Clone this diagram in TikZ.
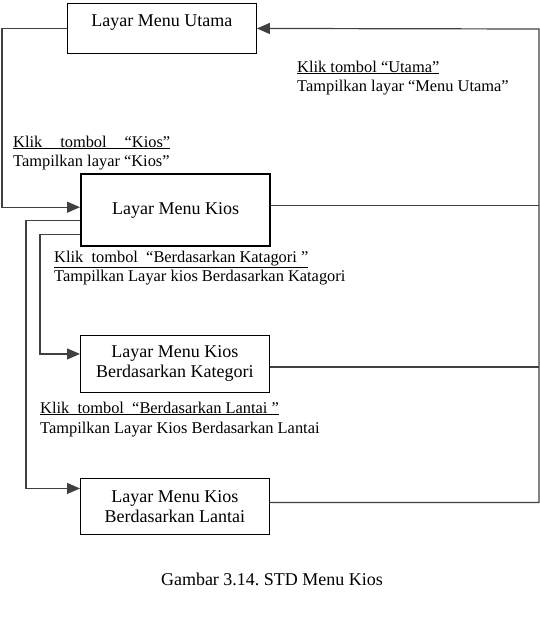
\documentclass[tikz,border=0pt]{standalone}
\usepackage{fontspec}
\setmainfont{Liberation Serif}
\usetikzlibrary{arrows.meta}
\frenchspacing
\begin{document}
\begin{tikzpicture}[x=1pt,y=-1pt,
  box/.style={draw=black, line width=0.9pt, minimum width=189pt, inner sep=0pt, align=center, anchor=north west, font=\fontsize{18}{20}\selectfont},
  lbl/.style={inner sep=0pt, anchor=base west, font=\fontsize{16.4}{19}\selectfont},
  conn/.style={draw=black!75, line width=1.2pt},
  arr/.style={conn, -{Triangle[length=13pt,width=11pt]}}]
\useasboundingbox (0,0) rectangle (540,640);

\node[box, minimum height=50pt, text height=12pt, text depth=16pt] (utama) at (67,3) {Layar Menu Utama};
\node[box, minimum height=72pt, line width=2.4pt] (kios) at (80,173) {Layar Menu Kios};
\node[box, minimum height=57pt] (kat) at (80,335) {Layar Menu Kios\\Berdasarkan Kategori};
\node[box, minimum height=56pt] (lantai) at (80,478) {Layar Menu Kios\\Berdasarkan Lantai};

\coordinate (rtop) at (539,29);
\coordinate (lft) at (2,29);

% Utama -> Kios
\draw[arr] (utama.west) -- (utama.west -| lft) |- ([yshift=3pt]kios.west);
% Kios -> Kategori
\draw[arr] ([yshift=-24pt]kios.west) -- ++(-40,0) |- ([yshift=10pt]kat.west);
% Kios -> Lantai
\draw[arr] ([yshift=-10pt]kios.west) -- ++(-54,0) |- ([yshift=18pt]lantai.west);
% back to Utama
\draw[arr] ([yshift=4pt]lantai.east) -- ([yshift=4pt]lantai.east -| rtop) -- (rtop) -- (utama.east);
\draw[conn] ([yshift=5pt]kios.east) -- ([yshift=5pt]kios.east -| rtop);
\draw[conn] ([yshift=-3pt]kat.east) -- ([yshift=-3pt]kat.east -| rtop);

\node[lbl] (l1a) at (297,72) {\underline{Klik tombol “Utama”}};
\node[lbl] (l1b) at (297,91) {Tampilkan layar “Menu Utama”};
\node[lbl] (l2a) at (13,147) {\underline{\makebox[157pt][s]{Klik tombol “Kios”}}};
\node[lbl] (l2b) at (13,166) {Tampilkan layar “Kios”};
\node[lbl] (l3a) at (54,262) {\underline{Klik\ \ tombol\ \ “Berdasarkan Katagori ”}};
\node[lbl] (l3b) at (54,281) {Tampilkan Layar kios Berdasarkan Katagori};
\node[lbl] (l4a) at (40,413) {\underline{Klik\ \ tombol\ \ “Berdasarkan Lantai ”}};
\node[lbl] (l4b) at (40,433) {Tampilkan Layar Kios Berdasarkan Lantai};

\node[inner sep=0pt, anchor=base, font=\fontsize{18}{20}\selectfont] (cap) at (272,585) {Gambar 3.14. STD Menu Kios};
\end{tikzpicture}
\end{document}
